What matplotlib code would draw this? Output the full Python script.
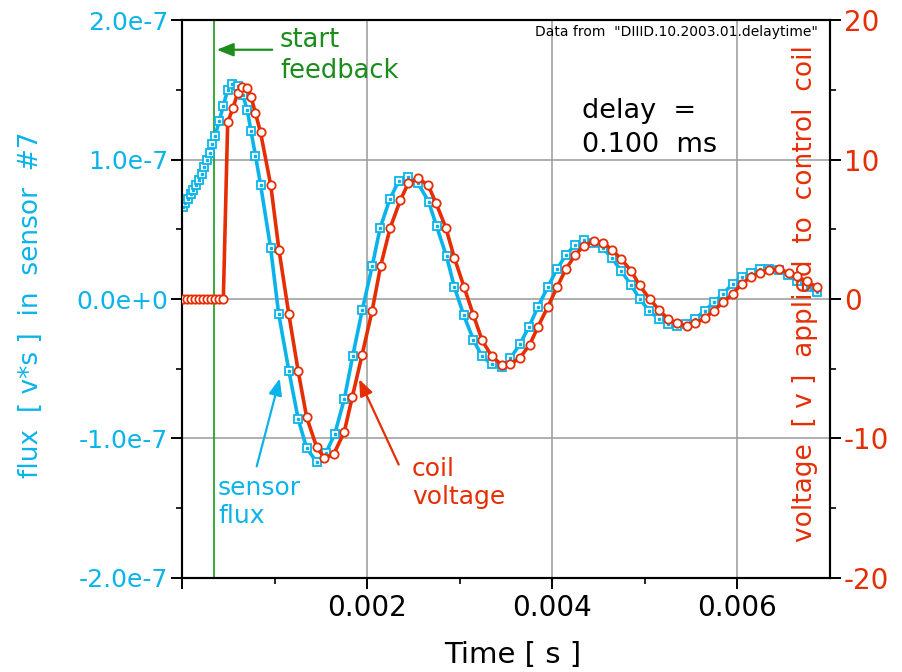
import matplotlib
matplotlib.use("Agg")
import matplotlib.pyplot as plt
import numpy as np

plt.rcParams['font.family'] = ['DejaVu Sans']

# sensor flux (time in ms, flux in units of 1e-7 v*s)
flux_t_ms = [0.008, 0.036, 0.068, 0.097, 0.122, 0.151, 0.180, 0.213, 0.242, 0.270,
             0.300, 0.326, 0.356, 0.403, 0.446, 0.493, 0.545, 0.601, 0.655, 0.705,
             0.745, 0.793, 0.849, 0.957, 1.044, 1.155, 1.255, 1.346, 1.454, 1.554,
             1.651, 1.754, 1.843, 1.946, 2.054, 2.140, 2.245, 2.342, 2.442, 2.550,
             2.663, 2.749, 2.857, 2.943, 3.043, 3.148, 3.241, 3.349, 3.451, 3.548,
             3.648, 3.749, 3.846, 3.950, 4.051, 4.148, 4.249, 4.339, 4.439, 4.544,
             4.644, 4.746, 4.854, 4.943, 5.044, 5.152, 5.249, 5.346, 5.447, 5.545,
             5.645, 5.745, 5.842, 5.950, 6.044, 6.145, 6.246, 6.346, 6.447, 6.548,
             6.645, 6.749, 6.854]
flux_e7 = [0.661, 0.686, 0.717, 0.751, 0.782, 0.818, 0.854, 0.895, 0.945, 0.995,
           1.050, 1.110, 1.171, 1.279, 1.389, 1.502, 1.545, 1.533, 1.466, 1.356,
           1.205, 1.030, 0.818, 0.366, -0.107, -0.519, -0.863, -1.070, -1.171, -1.106,
           -0.967, -0.715, -0.411, -0.081, 0.236, 0.510, 0.718, 0.849, 0.878, 0.830,
           0.700, 0.524, 0.306, 0.083, -0.116, -0.294, -0.412, -0.470, -0.488, -0.424,
           -0.326, -0.198, -0.054, 0.085, 0.215, 0.318, 0.390, 0.421, 0.402, 0.366,
           0.294, 0.200, 0.097, 0.001, -0.083, -0.143, -0.177, -0.191, -0.179, -0.143,
           -0.083, -0.025, 0.037, 0.110, 0.157, 0.189, 0.213, 0.215, 0.205, 0.174,
           0.126, 0.085, 0.049]

# coil voltage (time in ms, volts)
volt_t_ms = [0.008, 0.052, 0.096, 0.139, 0.183, 0.227, 0.271, 0.315, 0.358, 0.402,
             0.446, 0.493, 0.549, 0.601, 0.651, 0.704, 0.745, 0.793, 0.848, 0.958,
             1.047, 1.153, 1.255, 1.346, 1.454, 1.536, 1.641, 1.752, 1.838, 1.945,
             2.054, 2.145, 2.248, 2.358, 2.443, 2.550, 2.658, 2.745, 2.849, 2.941,
             3.047, 3.148, 3.241, 3.343, 3.451, 3.548, 3.648, 3.756, 3.846, 3.953,
             4.051, 4.145, 4.249, 4.339, 4.447, 4.547, 4.644, 4.746, 4.854, 4.943,
             5.051, 5.152, 5.249, 5.346, 5.454, 5.545, 5.645, 5.745, 5.842, 5.950,
             6.044, 6.145, 6.246, 6.339, 6.447, 6.552, 6.641, 6.753, 6.854]
volts = [0, 0, 0, 0, 0, 0, 0, 0, 0, 0,
         0, 12.68, 13.70, 14.78, 15.22, 15.12, 14.54, 13.34, 11.96, 8.18,
         3.53, -1.07, -5.19, -8.49, -10.63, -11.40, -11.11, -9.55, -7.07, -4.00,
         -0.83, 2.36, 5.10, 7.10, 8.30, 8.66, 8.18, 6.86, 5.13, 2.97,
         0.85, -1.16, -2.96, -4.09, -4.72, -4.67, -4.24, -3.28, -1.98, -0.54,
         0.85, 2.13, 3.18, 3.80, 4.16, 4.05, 3.54, 2.85, 2.00, 0.97,
         0.01, -0.78, -1.43, -1.74, -1.91, -1.74, -1.38, -0.83, -0.25, 0.37,
         1.09, 1.57, 1.89, 2.05, 2.15, 1.89, 1.62, 1.26, 0.85]

feedback_start = 0.00034

flux_ticks = [-2e-7, -1e-7, 0, 1e-7, 2e-7]
flux_tick_labels = ['-2.0e-7', '-1.0e-7', '0.0e+0', '1.0e-7', '2.0e-7']
volt_ticks = [-20, -10, 0, 10, 20]
volt_tick_labels = ['-20', '-10', '0', '10', '20']
time_ticks = [0, 0.002, 0.004, 0.006]
time_tick_labels = ['', '0.002', '0.004', '0.006']

cyan = '#0ab4ea'
red = '#e62e05'
green = '#1c8c1c'

t_f = np.array(flux_t_ms) * 1e-3
f = np.array(flux_e7) * 1e-7
t_v = np.array(volt_t_ms) * 1e-3
v = np.array(volts)

fig = plt.figure(figsize=(9.03, 6.72), dpi=100)
ax = fig.add_axes([0.2016, 0.1406, 0.7176, 0.8289])
ax2 = ax.twinx()

ax.set_xlim(0, 0.007)
ax.set_ylim(-2e-7, 2e-7)
ax2.set_ylim(-20, 20)

ax.grid(True, color='#9a9a9a', lw=1.1)
ax.set_axisbelow(True)

ax.plot(t_f, f, color=cyan, lw=2.6, marker='s', ms=6, mfc='white', mec=cyan, mew=1.3, zorder=3)
ax.plot(t_f, f, ls='none', marker='s', ms=1.6, color=cyan, zorder=4)
ax2.plot(t_v, v, color=red, lw=2.6, marker='o', ms=6, mfc='white', mec=red, mew=1.3, zorder=3)

ax.axvline(feedback_start, color='#2aa02a', lw=1.3, zorder=2)

ax.set_xticks(time_ticks)
ax.set_xticklabels(time_tick_labels)
ax.set_xticks([0.001, 0.003, 0.005], minor=True)
ax.set_yticks(flux_ticks)
ax.set_yticklabels(flux_tick_labels)
ax.set_yticks([-1.5e-7, -0.5e-7, 0.5e-7, 1.5e-7], minor=True)
ax2.set_yticks(volt_ticks)
ax2.set_yticklabels(volt_tick_labels)
ax2.set_yticks([-15, -5, 5, 15], minor=True)

for a in (ax, ax2):
    for s in a.spines.values():
        s.set_linewidth(1.5)
ax.tick_params(axis='both', which='major', direction='out', length=8, width=1.4)
ax.tick_params(axis='both', which='minor', direction='out', length=4.5, width=1.2)
ax.tick_params(axis='x', pad=4, labelcolor='black', labelsize=20)
ax.tick_params(axis='y', pad=2, labelcolor=cyan, labelsize=18)
ax2.tick_params(axis='y', which='major', direction='out', length=8, width=1.4,
                labelsize=20, labelcolor=red, pad=2)
ax2.tick_params(axis='y', which='minor', direction='out', length=4.5, width=1.2)

ax.set_xlabel('Time [ s ]', fontsize=21, va='center')
ax.xaxis.set_label_coords(0.51, -0.139)
ax.set_ylabel('flux  [ v*s ]  in  sensor  #7', fontsize=19, color=cyan, va='center')
ax.yaxis.set_label_coords(-0.233, 0.49)
ax2.set_ylabel('voltage  [ v ]  applied  to  control  coil', fontsize=19, color=red,
               va='center', rotation=90)
ax2.yaxis.set_label_coords(0.961, 0.51)

ax.text(0.006864, 1.92e-7, 'Data from  "DIIID.10.2003.01.delaytime"', fontsize=10,
        ha='right', va='center')
ax.text(0.004317, 1.228e-7, 'delay  =\n0.100  ms', fontsize=19.5, ha='left', va='center',
        linespacing=1.4)

ax.text(0.001058, 1.747e-7, 'start\nfeedback', fontsize=18.5, color=green, ha='left',
        va='center', linespacing=1.25)
ax.annotate('', xy=(0.000345, 1.79e-7), xytext=(0.001004, 1.79e-7),
            arrowprops=dict(arrowstyle='-|>,head_length=1.0,head_width=0.4',
                            color=green, lw=1.6))

ax.text(0.000389, -1.459e-7, 'sensor\nflux', fontsize=18, color=cyan, ha='left',
        va='center', linespacing=1.2)
ax.annotate('', xy=(0.001063, -0.551e-7), xytext=(0.000799, -1.221e-7),
            arrowprops=dict(arrowstyle='-|>,head_length=1.0,head_width=0.4',
                            color=cyan, lw=1.6))

ax.text(0.002482, -1.322e-7, 'coil\nvoltage', fontsize=18, color=red, ha='left',
        va='center', linespacing=1.25)
ax.annotate('', xy=(0.0019, -0.558e-7), xytext=(0.002353, -1.207e-7),
            arrowprops=dict(arrowstyle='-|>,head_length=1.0,head_width=0.4',
                            color=red, lw=1.6))

fig.savefig('out.png', dpi=100)
